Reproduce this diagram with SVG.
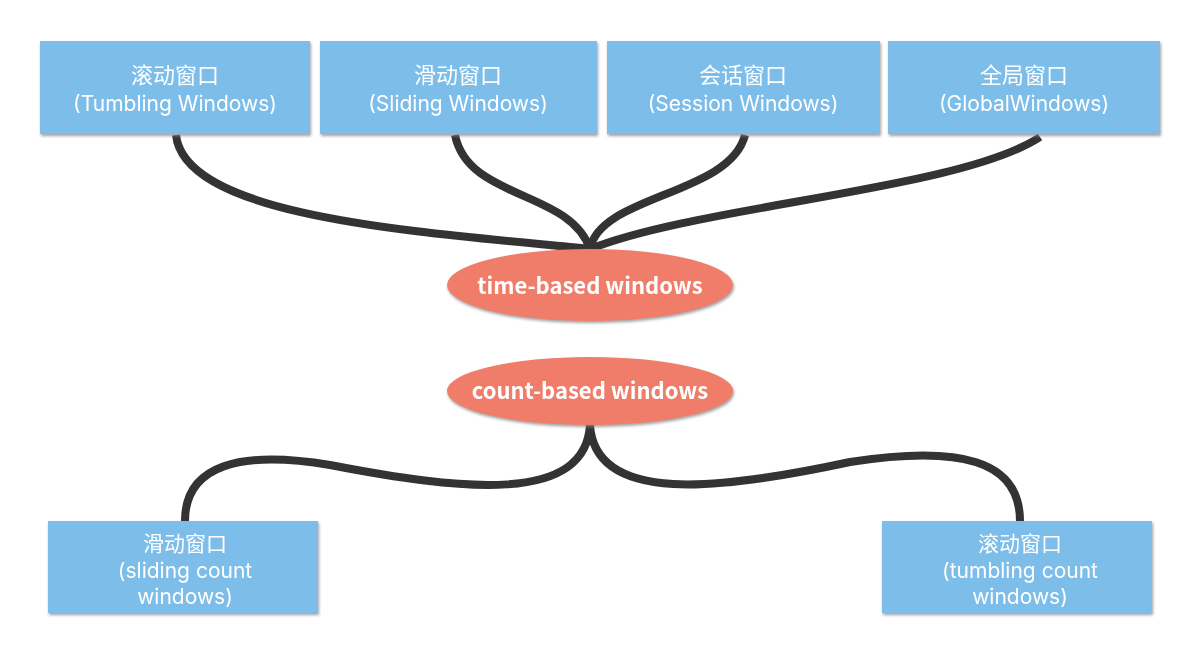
<svg xmlns="http://www.w3.org/2000/svg" width="1200" height="655" viewBox="0 0 1200 655">
<style>
.box{fill:#7dbde9;}
.bt{font-family:"Noto Sans CJK SC","Noto Sans",sans-serif;font-size:22px;fill:#ffffff;text-anchor:middle;}
.bl{font-family:Inter,"Noto Sans",sans-serif;font-size:21px;fill:#ffffff;text-anchor:middle;}
.bs{font-size:21px;}
.ell{fill:#f07d6a;}
.et{font-family:"Noto Sans CJK SC","Noto Sans",sans-serif;font-size:22px;font-weight:bold;fill:#ffffff;text-anchor:middle;}
.c{fill:none;stroke:#333333;stroke-width:8;stroke-linecap:butt;}
</style>
<defs>
<filter id="sh" x="-10%" y="-10%" width="120%" height="130%">
<feDropShadow dx="1" dy="2" stdDeviation="1.5" flood-color="#888888" flood-opacity="0.8"/>
</filter>
</defs>
<rect width="1200" height="655" fill="#ffffff"/>
<g id="connectors">
<path class="c" d="M176,135 C185,218 420,232 590,249"/>
<path class="c" d="M455,135 C468,200 570,190 590,249"/>
<path class="c" d="M745,135 C730,195 600,195 590,249"/>
<path class="c" d="M1040,137 C960,190 700,205 590,249"/>
<path class="c" d="M590,425 C585,505 460,490 330,465 C240,450 185,465 185,521"/>
<path class="c" d="M590,425 C595,505 720,490 850,462 C960,445 1020,460 1020,521"/>
</g>
<g id="tumbling" filter="url(#sh)">
<rect class="box" x="40" y="41" width="270" height="93"/>
<text class="bt" x="175" y="83">滚动窗口</text>
<text class="bl" x="175" y="111">(Tumbling Windows)</text>
</g>
<g id="sliding" filter="url(#sh)">
<rect class="box" x="320" y="41" width="277" height="93"/>
<text class="bt" x="458" y="83">滑动窗口</text>
<text class="bl" x="458" y="111">(Sliding Windows)</text>
</g>
<g id="session" filter="url(#sh)">
<rect class="box" x="607" y="41" width="273" height="93"/>
<text class="bt" x="743" y="83">会话窗口</text>
<text class="bl" x="743" y="111">(Session Windows)</text>
</g>
<g id="global" filter="url(#sh)">
<rect class="box" x="888" y="41" width="272" height="93"/>
<text class="bt" x="1024" y="83">全局窗口</text>
<text class="bl" x="1024" y="111">(GlobalWindows)</text>
</g>
<g id="time-based" filter="url(#sh)">
<ellipse class="ell" cx="590" cy="285" rx="143" ry="36"/>
<text class="et" x="590" y="294">time-based windows</text>
</g>
<g id="count-based" filter="url(#sh)">
<ellipse class="ell" cx="590" cy="391" rx="143" ry="34"/>
<text class="et" x="590" y="399">count-based windows</text>
</g>
<g id="sliding-count" filter="url(#sh)">
<rect class="box" x="48" y="521" width="270" height="92"/>
<text class="bt bs" x="185" y="551">滑动窗口</text>
<text class="bl" x="185" y="578">(sliding count</text>
<text class="bl" x="185" y="604">windows)</text>
</g>
<g id="tumbling-count" filter="url(#sh)">
<rect class="box" x="882" y="521" width="270" height="92"/>
<text class="bt bs" x="1020" y="551">滚动窗口</text>
<text class="bl" x="1020" y="578">(tumbling count</text>
<text class="bl" x="1020" y="604">windows)</text>
</g>
</svg>
